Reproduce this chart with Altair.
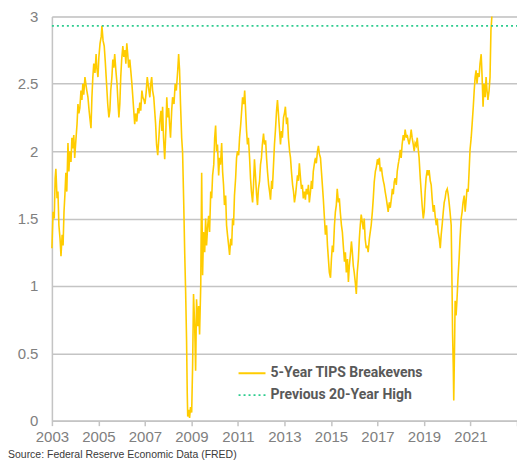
import altair as alt
import pandas as pd

years = [
2003.00,2003.05,2003.10,2003.14,2003.17,2003.22,2003.26,2003.30,2003.35,2003.39,2003.44,2003.48,2003.52,2003.56,2003.60,2003.64,2003.69,2003.73,2003.77,2003.82,2003.86,2003.90,2003.94,2003.98,
2004.03,2004.08,2004.12,2004.16,2004.20,2004.25,2004.29,2004.33,2004.37,2004.42,2004.46,2004.50,2004.55,2004.60,2004.63,2004.68,2004.72,2004.76,2004.80,2004.85,2004.90,2004.93,2004.98,
2005.02,2005.07,2005.12,2005.15,2005.20,2005.25,2005.30,2005.35,2005.40,2005.45,2005.49,2005.53,2005.58,2005.62,2005.66,2005.70,2005.75,2005.80,2005.83,2005.88,2005.92,2005.96,
2006.00,2006.05,2006.09,2006.14,2006.18,2006.22,2006.26,2006.30,2006.35,2006.40,2006.44,2006.48,2006.52,2006.56,2006.60,2006.65,2006.70,2006.74,2006.78,2006.82,2006.87,2006.91,2006.96,
2007.00,2007.05,2007.10,2007.15,2007.21,2007.25,2007.29,2007.33,2007.38,2007.42,2007.46,2007.50,2007.55,2007.60,2007.64,2007.69,2007.73,2007.76,2007.80,2007.85,2007.90,2007.94,2007.98,
2008.02,2008.06,2008.10,2008.15,2008.19,2008.25,2008.30,2008.35,2008.41,2008.45,2008.49,2008.53,2008.58,2008.62,2008.67,2008.71,2008.75,2008.79,2008.82,2008.84,2008.88,2008.92,2008.96,
2009.01,2009.05,2009.09,2009.14,2009.18,2009.22,2009.27,2009.31,2009.35,2009.40,2009.44,2009.48,2009.52,2009.57,2009.61,2009.65,2009.70,2009.74,2009.78,2009.83,2009.87,2009.91,2009.96,
2010.00,2010.04,2010.08,2010.12,2010.17,2010.21,2010.25,2010.30,2010.34,2010.38,2010.42,2010.47,2010.51,2010.55,2010.60,2010.64,2010.69,2010.73,2010.77,2010.81,2010.85,2010.90,2010.94,2010.98,
2011.03,2011.07,2011.12,2011.16,2011.20,2011.25,2011.29,2011.33,2011.37,2011.41,2011.45,2011.50,2011.54,2011.58,2011.63,2011.67,2011.71,2011.76,2011.80,2011.84,2011.88,2011.93,2011.97,
2012.01,2012.05,2012.10,2012.14,2012.19,2012.23,2012.27,2012.32,2012.36,2012.40,2012.45,2012.48,2012.53,2012.57,2012.61,2012.66,2012.70,2012.74,2012.79,2012.83,2012.87,2012.91,2012.96,
2013.00,2013.04,2013.09,2013.13,2013.17,2013.22,2013.26,2013.30,2013.35,2013.39,2013.43,2013.48,2013.52,2013.56,2013.60,2013.64,2013.69,2013.73,2013.77,2013.81,2013.86,2013.90,2013.94,2013.99,
2014.03,2014.07,2014.12,2014.16,2014.20,2014.24,2014.29,2014.33,2014.37,2014.42,2014.46,2014.50,2014.55,2014.59,2014.63,2014.67,2014.72,2014.76,2014.81,2014.85,2014.89,2014.93,2014.98,
2015.02,2015.06,2015.10,2015.15,2015.19,2015.23,2015.27,2015.32,2015.36,2015.40,2015.45,2015.49,2015.53,2015.58,2015.62,2015.66,2015.71,2015.75,2015.79,2015.83,2015.88,2015.92,2015.96,
2016.00,2016.05,2016.09,2016.13,2016.18,2016.22,2016.26,2016.30,2016.34,2016.39,2016.43,2016.47,2016.52,2016.56,2016.60,2016.65,2016.69,2016.73,2016.78,2016.82,2016.86,2016.91,2016.95,
2017.00,2017.04,2017.08,2017.12,2017.17,2017.21,2017.25,2017.29,2017.33,2017.38,2017.42,2017.46,2017.51,2017.55,2017.60,2017.64,2017.68,2017.72,2017.76,2017.81,2017.85,2017.89,2017.94,2017.98,
2018.02,2018.06,2018.11,2018.15,2018.19,2018.24,2018.28,2018.32,2018.36,2018.41,2018.45,2018.49,2018.54,2018.58,2018.62,2018.67,2018.71,2018.75,2018.79,2018.84,2018.88,2018.92,2018.97,
2019.01,2019.05,2019.09,2019.14,2019.18,2019.22,2019.27,2019.31,2019.35,2019.40,2019.44,2019.48,2019.53,2019.57,2019.61,2019.66,2019.70,2019.74,2019.78,2019.83,2019.87,2019.91,2019.95,
2020.00,2020.04,2020.08,2020.12,2020.17,2020.21,2020.23,2020.26,2020.28,2020.31,2020.34,2020.38,2020.42,2020.46,2020.51,2020.55,2020.60,2020.64,2020.68,2020.73,2020.77,2020.81,2020.85,2020.90,2020.94,2020.98,
2021.03,2021.07,2021.12,2021.16,2021.20,2021.24,2021.28,2021.32,2021.37,2021.41,2021.46,2021.50,2021.54,2021.58,2021.63,2021.67,2021.71,2021.75,2021.80,2021.84,2021.88,2021.92,
]

breakevens = [
1.28,1.55,1.50,1.80,1.87,1.65,1.70,1.45,1.35,1.22,1.38,1.30,1.55,1.68,1.84,1.70,2.06,1.85,2.00,1.92,2.10,2.02,2.12,1.95,
2.08,2.20,2.35,2.28,2.32,2.45,2.38,2.50,2.42,2.55,2.50,2.45,2.40,2.30,2.25,2.17,2.40,2.55,2.65,2.58,2.72,2.62,2.55,
2.70,2.80,2.85,2.93,2.82,2.78,2.65,2.50,2.35,2.25,2.30,2.45,2.55,2.68,2.62,2.72,2.60,2.50,2.40,2.25,2.35,2.55,
2.68,2.78,2.70,2.75,2.65,2.80,2.72,2.62,2.68,2.58,2.50,2.40,2.30,2.20,2.28,2.22,2.32,2.28,2.36,2.30,2.45,2.40,2.38,
2.35,2.43,2.55,2.48,2.40,2.50,2.55,2.45,2.40,2.30,2.20,2.05,1.97,2.10,2.22,2.30,2.15,2.33,2.10,1.94,2.15,2.40,2.25,
2.32,2.20,2.10,2.30,2.40,2.35,2.50,2.45,2.60,2.72,2.60,2.35,2.10,1.99,1.60,1.25,0.96,0.60,0.20,0.03,0.08,0.02,0.10,
0.06,0.40,0.94,0.70,0.37,0.90,0.70,0.85,0.64,1.00,1.84,1.08,1.40,1.25,1.50,1.30,1.45,1.52,1.40,1.70,1.65,1.82,1.90,
2.10,2.19,2.00,2.05,1.82,1.95,1.90,2.06,1.85,1.75,1.60,1.67,1.45,1.38,1.30,1.23,1.35,1.30,1.50,1.45,1.67,1.80,1.95,2.00,
1.97,2.10,2.20,2.30,2.40,2.35,2.45,2.30,2.15,2.05,2.10,1.95,1.80,1.70,1.62,1.75,1.94,1.80,1.68,1.60,1.72,1.78,1.90,
1.95,2.05,2.13,2.05,2.08,1.95,1.85,1.75,1.70,1.64,1.78,1.72,1.90,2.05,2.15,2.30,2.38,2.28,2.15,2.05,2.15,2.10,2.25,
2.28,2.33,2.20,2.25,2.10,2.00,1.95,1.85,1.75,1.70,1.62,1.68,1.75,1.82,1.78,1.91,1.80,1.72,1.75,1.65,1.70,1.64,1.72,1.68,
1.75,1.62,1.70,1.78,1.72,1.85,1.91,1.95,1.91,2.00,2.04,1.98,1.95,1.85,1.75,1.65,1.50,1.38,1.45,1.30,1.20,1.10,1.06,
1.20,1.30,1.25,1.45,1.55,1.60,1.72,1.62,1.65,1.55,1.45,1.40,1.30,1.18,1.25,1.10,1.20,1.03,1.15,1.22,1.33,1.25,1.15,
1.10,1.02,0.94,1.10,1.20,1.35,1.45,1.53,1.48,1.42,1.50,1.35,1.28,1.30,1.25,1.35,1.40,1.45,1.55,1.65,1.77,1.85,1.88,
1.94,1.90,1.95,1.85,1.88,1.82,1.78,1.75,1.70,1.65,1.60,1.55,1.62,1.58,1.65,1.72,1.68,1.77,1.80,1.75,1.85,1.90,1.95,2.01,
1.95,2.05,2.12,2.08,2.16,2.10,2.12,2.08,2.05,2.10,2.16,2.10,2.05,2.00,2.06,2.04,2.10,2.02,1.95,1.80,1.70,1.60,1.50,
1.55,1.70,1.80,1.86,1.82,1.86,1.78,1.75,1.65,1.55,1.60,1.52,1.45,1.50,1.40,1.35,1.28,1.38,1.45,1.55,1.62,1.65,1.70,
1.72,1.68,1.62,1.55,1.45,0.95,0.64,0.40,0.15,0.50,0.89,0.78,0.90,1.05,1.20,1.35,1.50,1.55,1.62,1.67,1.55,1.63,1.72,1.70,1.85,2.01,
2.10,2.20,2.33,2.45,2.55,2.60,2.50,2.58,2.55,2.65,2.72,2.55,2.33,2.50,2.40,2.55,2.45,2.38,2.45,2.55,2.90,3.00,
]

series_names = ["5-Year TIPS Breakevens", "Previous 20-Year High"]
previous_high = 2.93
x_domain = [2003, 2023]
x_ticks = [2003, 2005, 2007, 2009, 2011, 2013, 2015, 2017, 2019, 2021, 2023]
y_ticks = [0, 0.5, 1, 1.5, 2, 2.5, 3]
source_text = "Source: Federal Reserve Economic Data (FRED)"

df_line = pd.DataFrame({"year": years, "value": breakevens, "series": series_names[0]})
df_high = pd.DataFrame({"year": x_domain, "value": [previous_high] * 2, "series": series_names[1]})
df = pd.concat([df_line, df_high], ignore_index=True)

GRID = "#c4c4c4"
LABEL = "#808080"

x = alt.X("year:Q", scale=alt.Scale(domain=x_domain, nice=False, zero=False),
          axis=alt.Axis(values=x_ticks, format="d", grid=False, title=None,
                        labelExpr="datum.value == 2023 ? '' : datum.label",
                        labelOverlap=False, labelFlush=False,
                        labelFont="Liberation Sans", labelFontSize=15, labelColor=LABEL,
                        labelPadding=4, tickSize=5, tickColor=GRID, tickWidth=1.5,
                        domainColor=GRID, domainWidth=1.5))
y = alt.Y("value:Q", scale=alt.Scale(domain=[0, 3], nice=False),
          axis=alt.Axis(values=y_ticks, title=None, grid=True, gridColor=GRID, gridWidth=1.5,
                        ticks=False, labelFont="Liberation Sans", labelFontSize=15,
                        labelOverlap=False, labelFlush=False,
                        labelColor=LABEL, labelPadding=14, domainColor=GRID, domainWidth=1.5,
                        labelExpr="datum.value == 0 ? '0' : format(datum.value, '.1~f')"))

lines = alt.Chart(df).mark_line(strokeWidth=1.6, interpolate="linear").encode(
    x=x, y=y,
    color=alt.Color("series:N", scale=alt.Scale(domain=series_names, range=["#FFCC00", "#2ECC8F"]),
                    legend=alt.Legend(title=None, orient="none", legendX=186, legendY=343,
                                      symbolType="stroke", symbolSize=729, symbolStrokeWidth=1.8,
                                      labelFont="Roboto", labelFontWeight="bold",
                                      labelFontSize=14, labelColor="#595959", rowPadding=-5,
                                      labelOffset=4, padding=0)),
    strokeDash=alt.StrokeDash("series:N", scale=alt.Scale(domain=series_names, range=[[1, 0], [2, 3]]),
                              legend=None),
    order=alt.Order("year:Q"),
)

source = alt.Chart(pd.DataFrame({"t": [source_text]})).mark_text(
    align="left", baseline="middle", font="Liberation Sans", fontSize=10.5,
    color="#3a3a3a").encode(x=alt.value(-44), y=alt.value(439), text="t:N")

chart = alt.layer(lines, source).properties(
    width=466, height=405,
    autosize=alt.AutoSizeParams(type="none"),
    padding={"left": 44, "top": 8, "right": 0, "bottom": 46},
).configure_view(stroke=GRID, strokeWidth=1.5).configure(background="white")

chart.save("out.html", embed_options={"renderer": "svg", "actions": False})
